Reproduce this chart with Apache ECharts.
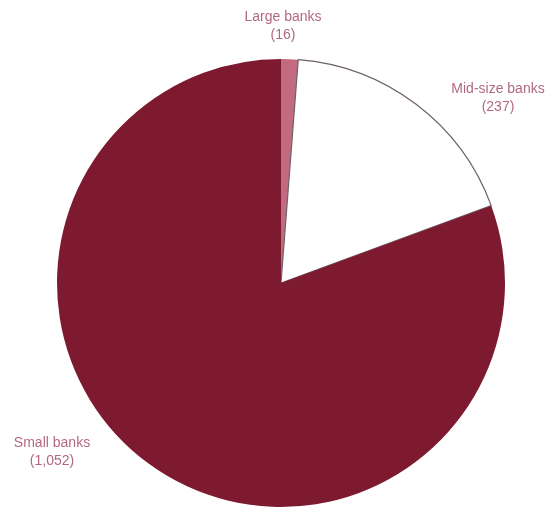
<!DOCTYPE html>
<html>
<head>
<meta charset="utf-8">
<script src="https://cdn.jsdelivr.net/npm/echarts@6/dist/echarts.min.js"></script>
<style>
  html, body { margin: 0; padding: 0; background: #ffffff; }
  #chart { width: 549px; height: 508px; }
</style>
</head>
<body>
<div id="chart"></div>
<script>
// Number of banks by size group
const categories = ['Large banks', 'Mid-size banks', 'Small banks'];
const bankCounts = [16, 237, 1052];

const sliceColors = ['#c26b80', '#ffffff', '#7e1a2f'];
// Label anchor positions (px) for each slice's caption
const labelAnchors = [
  { x: 283, y: 26 },
  { x: 498, y: 98 },
  { x: 52, y: 452 }
];

const fmt = n => n.toLocaleString('en-US');

const chart = echarts.init(document.getElementById('chart'), null, { renderer: 'canvas' });
chart.setOption({
  animation: false,
  backgroundColor: '#ffffff',
  series: [{
    type: 'pie',
    center: [281, 283],
    radius: 224,
    startAngle: 90,
    clockwise: true,
    avoidLabelOverlap: false,
    data: categories.map((name, i) => ({
      name,
      value: bankCounts[i],
      itemStyle: {
        color: sliceColors[i],
        borderColor: i === 1 ? '#6e6068' : sliceColors[i],
        borderWidth: i === 1 ? 1.2 : 0
      }
    })),
    label: {
      show: true,
      formatter: p => p.name + '\n(' + fmt(p.value) + ')',
      fontFamily: 'Liberation Sans, Arial, sans-serif',
      fontSize: 14,
      lineHeight: 18,
      color: '#b26883',
      align: 'center'
    },
    labelLine: { show: false },
    labelLayout: p => ({
      x: labelAnchors[p.dataIndex].x,
      y: labelAnchors[p.dataIndex].y,
      align: 'center',
      verticalAlign: 'middle'
    })
  }]
});
</script>
</body>
</html>
